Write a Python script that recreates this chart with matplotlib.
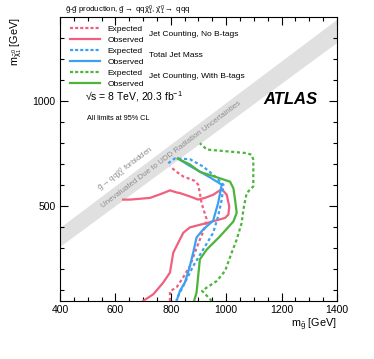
import matplotlib
matplotlib.use("Agg")
import matplotlib.pyplot as plt
from matplotlib.lines import Line2D

plt.rcParams['font.family'] = ['Liberation Sans', 'DejaVu Sans']
plt.rcParams['mathtext.fontset'] = 'custom'
plt.rcParams['mathtext.rm'] = 'Liberation Sans'
plt.rcParams['mathtext.it'] = 'Liberation Sans'
plt.rcParams['mathtext.default'] = 'regular'

# limit contours (m_gluino, m_neutralino) in GeV
pink_exp_x = [797, 797, 821, 845, 869, 887, 905, 923, 929, 911, 905, 899, 885, 869, 845, 821, 797]
pink_exp_y = [50, 96, 115, 163, 216, 280, 342, 399, 440, 516, 563, 603, 622, 630, 642, 664, 690]
pink_obs_x = [700, 737, 773, 797, 809, 845, 869, 934, 996, 1008, 1011, 1002, 984, 953, 923, 899,
              869, 833, 821, 797, 773, 725, 653, 628]
pink_obs_y = [50, 82, 138, 185, 280, 374, 400, 422, 445, 461, 500, 555, 582, 555, 540, 532,
              547, 563, 566, 576, 563, 540, 532, 532]
blue_exp_x = [791, 815, 869, 917, 953, 990, 984, 971, 953, 917, 881, 857, 833, 820]
blue_exp_y = [705, 728, 724, 689, 650, 603, 532, 453, 374, 295, 216, 153, 90, 55]
blue_obs_x = [821, 833, 851, 869, 881, 893, 917, 953, 971, 984, 941, 905, 869, 826]
blue_obs_y = [50, 98, 138, 216, 280, 352, 390, 432, 516, 603, 638, 665, 692, 727]
green_exp_x = [948, 930, 913, 930, 966, 996, 1020, 1038, 1056, 1062, 1074, 1098, 1098, 1092,
               1074, 930, 905]
green_exp_y = [50, 75, 98, 114, 145, 193, 280, 342, 421, 484, 563, 595, 721, 745,
               753, 770, 800]
green_obs_x = [884, 893, 899, 905, 930, 978, 1026, 1038, 1032, 1026, 1014, 978, 905, 869, 825]
green_obs_y = [50, 90, 169, 248, 295, 358, 428, 469, 532, 586, 617, 633, 664, 699, 727]

# unevaluated band
band_x = [400, 1400]
band_lo = [310, 1280]
band_hi = [400, 1390]

pink = '#f0607e'
blue = '#3d9ff0'
green = '#4cb43a'
dot = (0, (1.4, 1.2))
lw = 1.6

fig = plt.figure(figsize=(3.74, 3.59), dpi=100)
ax = fig.add_axes([0.1604, 0.1616, 0.7406, 0.791])

ax.fill_between(band_x, band_lo, band_hi, color='#e0e0e0', lw=0, zorder=1)
ax.text(803, 745, 'Unevaluated Due to UDD Radiation Uncertainties', rotation=37,
        ha='center', va='center', rotation_mode='anchor', fontsize=5.7, color='#8e8e8e', zorder=2)
ax.text(638, 674, r'$\tilde{g}\rightarrow qq\tilde{\chi}^{0}_{1}$ forbidden', rotation=37,
        ha='center', va='center', rotation_mode='anchor', fontsize=5.7, color='#8e8e8e', zorder=2)

ax.plot(pink_exp_x, pink_exp_y, color=pink, lw=lw, ls=dot, zorder=3)
ax.plot(pink_obs_x, pink_obs_y, color=pink, lw=lw, zorder=3)
ax.plot(blue_exp_x, blue_exp_y, color=blue, lw=lw, ls=dot, zorder=3)
ax.plot(blue_obs_x, blue_obs_y, color=blue, lw=lw, zorder=3)
ax.plot(green_exp_x, green_exp_y, color=green, lw=lw, ls=dot, zorder=3)
ax.plot(green_obs_x, green_obs_y, color=green, lw=lw, zorder=3)

ax.set_xlim(400, 1400)
ax.set_ylim(50, 1400)
ax.set_xticks([400, 600, 800, 1000, 1200, 1400])
ax.set_xticks(range(400, 1401, 50), minor=True)
ax.set_yticks([500, 1000])
ax.set_yticks(range(100, 1400, 100), minor=True)
ax.tick_params(which='both', direction='in', top=True, right=True, labelsize=7.5, pad=3)
ax.tick_params(which='major', length=6, width=0.8)
ax.tick_params(which='minor', length=3, width=0.8)
for s in ax.spines.values():
    s.set_linewidth(0.8)

ax.set_xlabel(r'm$_{\tilde{g}}$ [GeV]', loc='right', fontsize=7.8, labelpad=1)
ax.set_ylabel(r'm$_{\tilde{\chi}^{0}_{1}}$ [GeV]', loc='top', fontsize=7.8, labelpad=6)

handles = [Line2D([], [], color=pink, lw=lw, ls=(0, (1.4, 0.9))), Line2D([], [], color=pink, lw=lw),
           Line2D([], [], color=blue, lw=lw, ls=(0, (1.4, 0.9))), Line2D([], [], color=blue, lw=lw),
           Line2D([], [], color=green, lw=lw, ls=(0, (1.4, 0.9))), Line2D([], [], color=green, lw=lw)]
labels = ['Expected', 'Observed'] * 3
ax.legend(handles, labels, loc='upper left', bbox_to_anchor=(0.036, 0.970), frameon=False,
          fontsize=6, handlelength=3.6, handletextpad=0.9, labelspacing=0.38,
          borderpad=0, borderaxespad=0)

ax.text(0.321, 0.940, 'Jet Counting, No B-tags', transform=ax.transAxes, fontsize=6, va='center')
ax.text(0.321, 0.866, 'Total Jet Mass', transform=ax.transAxes, fontsize=6, va='center')
ax.text(0.321, 0.792, 'Jet Counting, With B-tags', transform=ax.transAxes, fontsize=6, va='center')

ax.text(0.09, 0.718, '√s = 8 TeV, 20.3 fb$^{-1}$', transform=ax.transAxes, fontsize=7.5, va='center')
ax.text(0.733, 0.708, 'ATLAS', transform=ax.transAxes, fontsize=12, fontweight='bold',
        style='italic', va='center')
ax.text(0.097, 0.641, 'All limits at 95% CL', transform=ax.transAxes, fontsize=5.2, va='center')

fig.text(0.174, 0.972, r'$\tilde{g}$-$\tilde{g}$ production, $\tilde{g}\rightarrow$ qq$\tilde{\chi}^{0}_{1}$, '
         r'$\tilde{\chi}^{0}_{1}\rightarrow$ qqq', fontsize=5.6, va='center')

fig.savefig('out.png', dpi=100)
